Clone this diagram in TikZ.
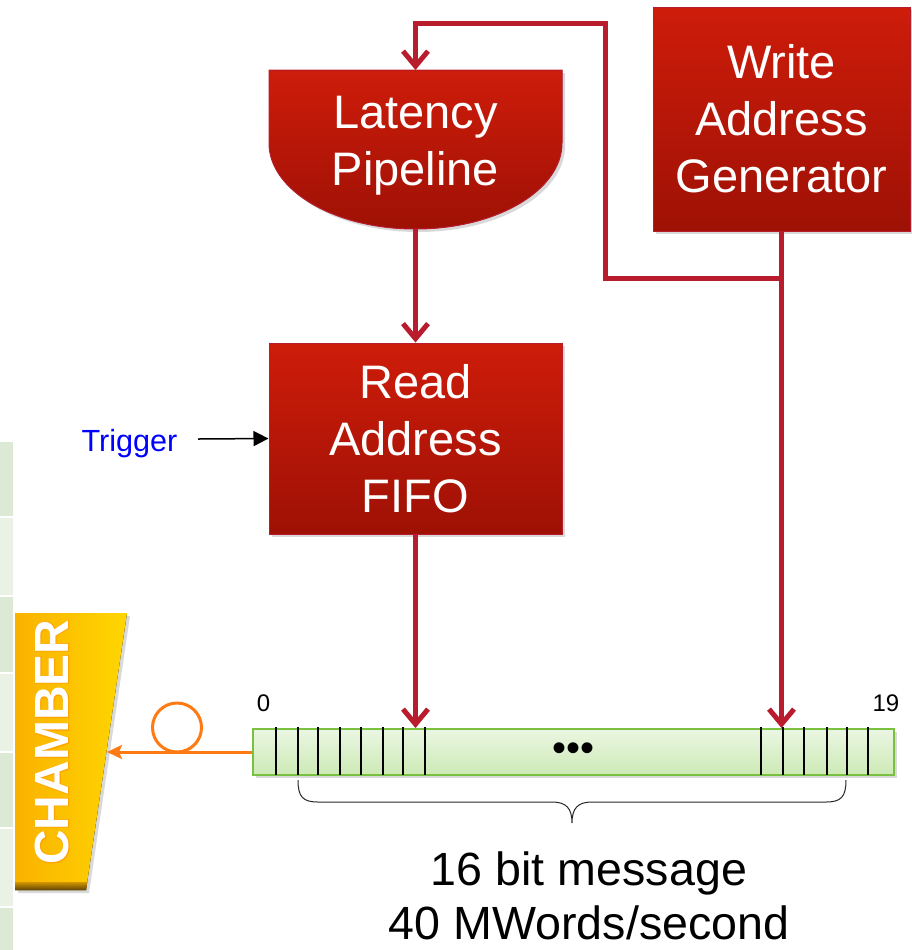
\documentclass[tikz,border=0pt]{standalone}
\usepackage{fontspec}
\setmainfont{Liberation Sans}
\newfontfamily\glowfont[FakeBold=3]{Liberation Sans}
\usepackage{xcolor}
\usepackage{tikz}
\usetikzlibrary{shapes, arrows.meta, positioning, calc, shadows}

\definecolor{boxtop}{RGB}{206,28,10}
\definecolor{boxbot}{RGB}{158,17,5}
\definecolor{wirered}{RGB}{185,28,45}
\definecolor{bufedge}{RGB}{122,193,66}
\definecolor{buftop}{RGB}{234,246,226}
\definecolor{bufbot}{RGB}{205,234,182}
\definecolor{fiberorange}{RGB}{255,122,18}
\definecolor{chgold}{RGB}{255,214,0}
\definecolor{chdeep}{RGB}{250,178,0}
\definecolor{chglow}{RGB}{255,160,0}
\definecolor{chdark}{RGB}{110,78,8}
\definecolor{cellA}{RGB}{220,234,213}
\definecolor{cellB}{RGB}{234,242,230}

\tikzset{
  boxshadow/.style={drop shadow={opacity=0.3, shadow xshift=1.5pt, shadow yshift=-1.5pt}},
  redbox/.style={draw=wirered, line width=0.5pt, top color=boxtop, bottom color=boxbot,
    text=white, align=center, font=\fontsize{23.5}{28.5}\selectfont, boxshadow},
  wire/.style={draw=wirered, line width=2.5pt},
  wirearrow/.style={wire, -{Straight Barb[length=7.5pt,width=12.5pt]}},
  fiberline/.style={draw=fiberorange, line width=1.5pt},
  bufbox/.style={draw=bufedge, line width=1pt, top color=buftop, bottom color=bufbot,
    minimum width=320.5pt, minimum height=23pt, inner sep=0pt, boxshadow},
  cellline/.style={draw=black, line width=1pt},
  brace/.style={draw=black!85, line width=0.5pt},
  smalllabel/.style={font=\fontsize{12}{14}\selectfont}
}

\begin{document}
\begin{tikzpicture}[x=0.5pt, y=-0.5pt]
  \useasboundingbox (0,0) rectangle (912,950);

  % Column of table cells at the left edge
  \foreach \ya/\yb/\c in {442/516/cellA, 518/595/cellB, 597/672/cellA, 674/751/cellB,
                          753/827/cellA, 829/906/cellB, 908/950/cellA}
    \fill[\c] (0,\ya) rectangle (13,\yb);

  % Key points
  \coordinate (lattop) at (415.5,70);
  \coordinate (latbot) at (415.5,229);
  \coordinate (tap) at (781.5,278);
  \coordinate (fbtop) at (605,23);
  \coordinate (trigtail) at (198,439);
  \coordinate (chin) at (107,752);
  \coordinate (loop) at (177,727.5);

  % Latency pipeline (box with a rounded bottom)
  \fill[draw=wirered, line width=0.5pt, top color=boxtop, bottom color=boxbot, boxshadow]
    (269,70) -- (562,70) -- (562,143)
    .. controls (562,190.5) and (496.4,229) .. (latbot)
    .. controls (334.6,229) and (269,190.5) .. (269,143) -- cycle;
  \node (lat) at (415.5,146) [text=white, align=center, font=\fontsize{23.5}{28.5}\selectfont]
    {Latency\\Pipeline};

  % Read address FIFO and write address generator
  \node (read) at (415.5,438.5) [redbox, minimum width=146.5pt, minimum height=95.5pt]
    {Read\\Address\\FIFO};
  \node (wag) at (781.5,119) [redbox, minimum width=128.5pt, minimum height=112pt]
    {Write\\Address\\Generator};

  % Circular buffer
  \node (buf) at (573.5,752) [bufbox, font=\fontsize{20}{21}\selectfont] {•••};
  \foreach \x in {276,298,318,340,361,383,403,425,761,783,804,827,847,868}
    \draw[cellline] (\x,727) -- (\x,775);
  \node (zero) at (263.5,703) [smalllabel] {0};
  \node (nineteen) at (886,703) [smalllabel] {19};

  % Brace under the buffer
  \draw[brace] (298,780) .. controls (298,797) and (303,802) .. (318,802) -- (552,802)
    .. controls (566,802) and (572,808) .. (572,823)
    .. controls (572,808) and (578,802) .. (592,802) -- (826,802)
    .. controls (841,802) and (846,797) .. (846,780);
  \node (msg) at (589,896) [align=center, inner sep=0pt, font=\fontsize{23.3}{27}\selectfont]
    {16 bit message\\40 MWords/second};

  % Wires
  \draw[wirearrow] (latbot) -- (read.north);
  \draw[wirearrow] (read.south) -- (read.south |- buf.north);
  \draw[wirearrow] (wag.south) -- (wag.south |- buf.north);
  \draw[wirearrow] (tap) -| (fbtop) -| (lattop);

  % Trigger input
  \node (trig) at (129.5,443.5) [text=blue, font=\fontsize{15.3}{18}\selectfont] {Trigger};
  \draw[line width=0.75pt, -{Triangle[length=7.5pt,width=7.5pt]}] (trigtail) -- (read.west);

  % Chamber
  \fill[left color=chdeep, right color=chgold, boxshadow]
    (15,613) -- (127,613) -- (86,890) -- (15,890) -- cycle;
  \fill[top color=chdeep, bottom color=chdark, opacity=0.8]
    (15,882) -- (87.2,882) -- (86,890) -- (15,890) -- cycle;
  \node (chamberglow) at (52,742) [rotate=90, text=chglow, text opacity=0.8,
    font=\glowfont\bfseries\fontsize{24}{28}\selectfont] {CHAMBER};
  \node (chamber) at (52,742) [rotate=90, text=white,
    font=\bfseries\fontsize{24}{28}\selectfont] {CHAMBER};

  % Fibre to the chamber
  \draw[fiberline, -{Stealth[length=7.5pt,width=7pt,inset=1.5pt]}] (buf.west) -- (chin);
  \draw[fiberline] (loop) circle (12.25pt);
\end{tikzpicture}
\end{document}
